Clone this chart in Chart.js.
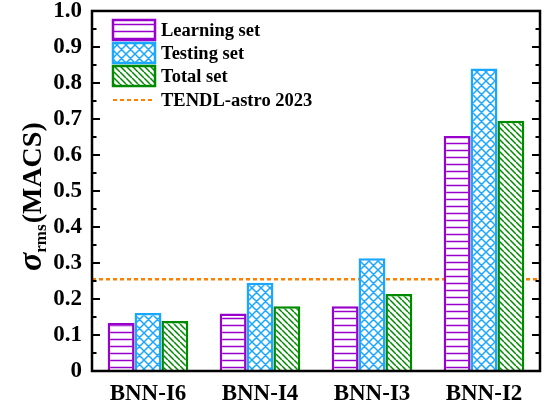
<!DOCTYPE html>
<html>
<head>
<meta charset="utf-8">
<script src="https://cdn.jsdelivr.net/npm/chart.js@4.4.1/dist/chart.umd.min.js"></script>
<style>
  html, body { margin: 0; padding: 0; background: #fff; }
  canvas { display: block; }
</style>
</head>
<body>
<canvas id="sigmaChart" width="548" height="407"></canvas>
<script>
// model names and rms deviations per data set
const models = ['BNN-I6', 'BNN-I4', 'BNN-I3', 'BNN-I2'];
const learningSet = [0.133, 0.160, 0.180, 0.653];
const testingSet = [0.161, 0.245, 0.313, 0.840];
const totalSet = [0.139, 0.180, 0.214, 0.695];
const tendlAstro = 0.255;
const seriesNames = ['Learning set', 'Testing set', 'Total set', 'TENDL-astro 2023'];

const PURPLE = '#9900CC';
const BLUE = '#1AA7FF';
const GREEN = '#008A00';
const ORANGE = '#FF8000';
const FONT = '"Liberation Serif", "Times New Roman", serif';

// hatch fills
function makePattern(kind, color) {
  const size = kind === 'horiz' ? 7 : (kind === 'cross' ? 9 : 6);
  const c = document.createElement('canvas');
  c.width = size; c.height = size;
  const g = c.getContext('2d');
  g.fillStyle = '#fff';
  g.fillRect(0, 0, size, size);
  g.strokeStyle = color;
  g.lineWidth = 1.5;
  g.beginPath();
  if (kind === 'horiz') {
    g.moveTo(0, size / 2); g.lineTo(size, size / 2);
  } else {
    for (let o = -size; o <= size; o += size) {
      g.moveTo(o, 0); g.lineTo(o + size, size);
      if (kind === 'cross') { g.moveTo(o, size); g.lineTo(o + size, 0); }
    }
  }
  g.stroke();
  return g.createPattern(c, 'repeat');
}

const fills = [makePattern('horiz', PURPLE), makePattern('cross', BLUE), makePattern('diag', GREEN)];
const borders = [PURPLE, BLUE, GREEN];

// dashed reference line, drawn under the bars
const refLine = {
  id: 'refLine',
  beforeDatasetsDraw(chart) {
    const { ctx, chartArea: a, scales: { y } } = chart;
    const py = y.getPixelForValue(tendlAstro);
    ctx.save();
    ctx.strokeStyle = ORANGE;
    ctx.lineWidth = 2.5;
    ctx.setLineDash([4, 3]);
    ctx.beginPath();
    ctx.moveTo(a.left, py); ctx.lineTo(a.right, py);
    ctx.stroke();
    ctx.restore();
  }
};

// box frame, inward ticks, legend and axis title
const decorations = {
  id: 'decorations',
  afterDraw(chart) {
    const { ctx, chartArea: a, scales: { y } } = chart;
    ctx.save();
    ctx.strokeStyle = '#000';
    ctx.lineWidth = 2.5;
    ctx.strokeRect(a.left, a.top, a.right - a.left, a.bottom - a.top);

    ctx.lineWidth = 2;
    ctx.beginPath();
    for (let i = 1; i < 20; i++) {
      const v = i * 0.05;
      const py = y.getPixelForValue(v);
      const len = i % 2 === 0 ? 8 : 4.5;
      ctx.moveTo(a.left, py); ctx.lineTo(a.left + len, py);
      ctx.moveTo(a.right, py); ctx.lineTo(a.right - len, py);
    }
    ctx.stroke();

    // legend
    const lx = 113, bw = 42, bh = 20;
    ctx.font = 'bold 18.5px ' + FONT;
    ctx.textBaseline = 'middle';
    ctx.fillStyle = '#000';
    for (let i = 0; i < 3; i++) {
      const top = 20 + i * 23;
      ctx.fillStyle = fills[i];
      ctx.fillRect(lx, top, bw, bh);
      ctx.strokeStyle = borders[i];
      ctx.lineWidth = 2.5;
      ctx.strokeRect(lx, top, bw, bh);
      ctx.fillStyle = '#000';
      ctx.fillText(seriesNames[i], 161, top + bh / 2 + 1);
    }
    const dy = 100;
    ctx.strokeStyle = ORANGE;
    ctx.lineWidth = 2;
    ctx.setLineDash([4, 3]);
    ctx.beginPath();
    ctx.moveTo(lx, dy); ctx.lineTo(lx + bw, dy);
    ctx.stroke();
    ctx.setLineDash([]);
    ctx.fillText(seriesNames[3], 161, dy + 1);

    // y title: sigma_rms(MACS)
    ctx.translate(41, 271);
    ctx.rotate(-Math.PI / 2);
    ctx.textBaseline = 'alphabetic';
    ctx.textAlign = 'left';
    let x = 0;
    ctx.font = 'italic bold 34px ' + FONT;
    ctx.fillText('σ', x, 0);
    x += ctx.measureText('σ').width;
    ctx.font = 'bold 17px ' + FONT;
    ctx.fillText('rms', x, 5);
    x += ctx.measureText('rms').width + 1;
    ctx.font = 'bold 28px ' + FONT;
    ctx.fillText('(MACS)', x, 0);
    ctx.restore();
  }
};

new Chart(document.getElementById('sigmaChart'), {
  type: 'bar',
  data: {
    labels: models,
    datasets: [learningSet, testingSet, totalSet].map((d, i) => ({
      label: seriesNames[i],
      data: d,
      backgroundColor: fills[i],
      borderColor: borders[i],
      borderWidth: 2.5,
      barPercentage: 1.0,
      categoryPercentage: 0.72
    }))
  },
  options: {
    responsive: false,
    animation: false,
    layout: { padding: { top: 2, right: 8, left: 0, bottom: 0 } },
    plugins: {
      legend: { display: false },
      tooltip: { enabled: false }
    },
    scales: {
      x: {
        grid: { display: false },
        border: { display: false },
        ticks: { color: '#000', font: { family: FONT, size: 23, weight: 'bold' }, padding: 1 },
        afterFit: s => { s.height = 36; }
      },
      y: {
        min: 0,
        max: 1,
        grid: { display: false },
        border: { display: false },
        ticks: {
          stepSize: 0.1,
          color: '#000',
          padding: 2,
          font: { family: FONT, size: 23, weight: 'bold', lineHeight: 0.78 },
          callback: v => (v === 0 ? '0' : v.toFixed(1))
        },
        afterFit: s => { s.width = 92; }
      }
    }
  },
  plugins: [refLine, decorations]
});
</script>
</body>
</html>
